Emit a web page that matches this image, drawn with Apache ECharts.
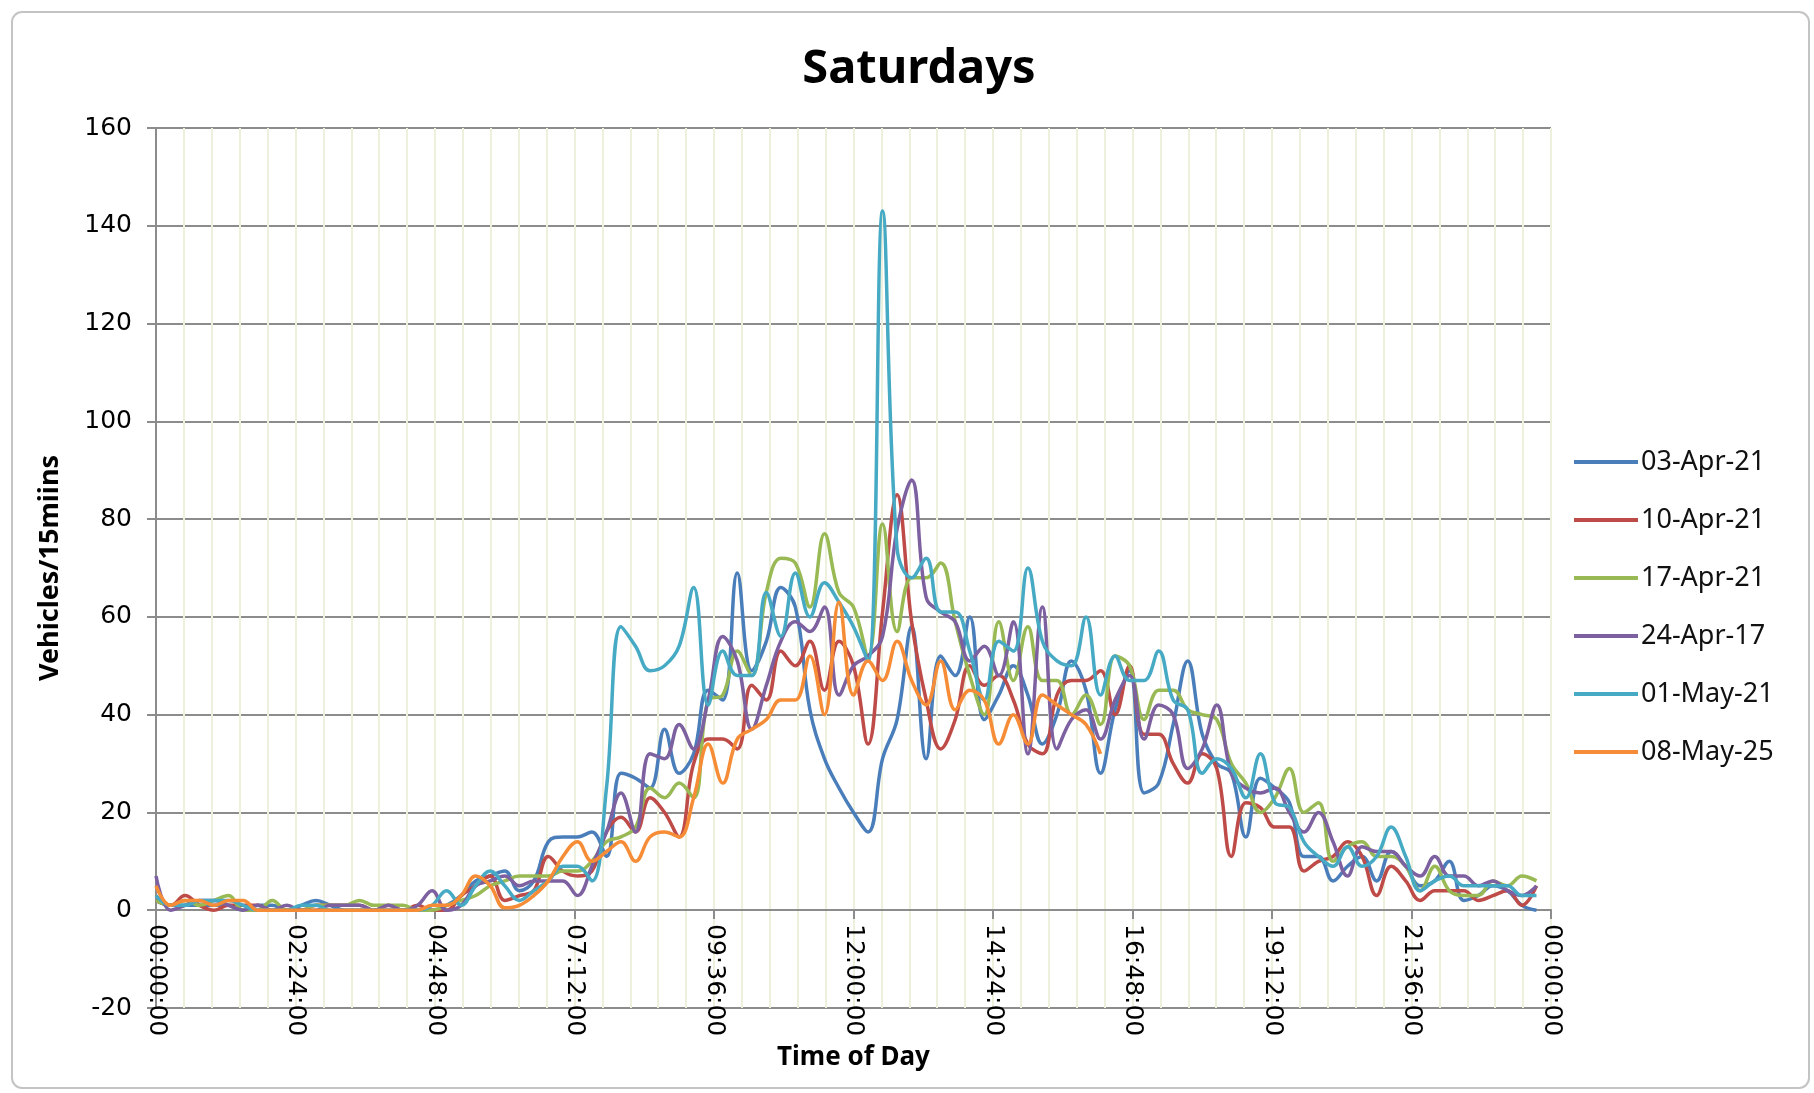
<!DOCTYPE html>
<html>
<head>
<meta charset="utf-8">
<title>Saturdays</title>
<script src="https://cdn.jsdelivr.net/npm/echarts@6/dist/echarts.min.js"></script>
<style>
  html, body { margin: 0; padding: 0; background: #fff; }
  #chart { width: 1814px; height: 1093px; }
</style>
</head>
<body>
<div id="chart"></div>
<script>
// time of day in minutes, one slot every 15 mins
const slots = Array.from({ length: 96 }, (_, i) => i * 15);

const seriesNames = ['03-Apr-21', '10-Apr-21', '17-Apr-21', '24-Apr-17', '01-May-21', '08-May-25'];
const colors = ['#4a7ebb', '#be4b48', '#98b954', '#7d60a0', '#46aac5', '#f68c36'];

const apr03 = [
  2, 1, 1, 1, 1, 1, 0, 1, 1, 0,
  1, 2, 1, 0, 0, 0, 0, 0, 0, 0,
  1, 3, 6, 7, 8, 4, 6, 14, 15, 15,
  16, 11, 28, 27, 25, 37, 28, 32, 45, 43,
  69, 49, 55, 66, 62, 41, 31, 25, 20, 16,
  31, 39, 58, 31, 52, 48, 60, 39, 44, 50,
  44, 34, 40, 51, 45, 28, 41, 49, 24, 26,
  38, 51, 36, 30, 28, 15, 27, 25, 22, 11,
  11, 6, 9, 11, 6, 12, 9, 5, 6, 10,
  2, 3, 5, 4, 1, 0
];
const apr10 = [
  2, 1, 3, 1, 0, 1, 1, 1, 0, 0,
  0, 1, 1, 1, 1, 0, 1, 0, 1, 0,
  0, 3, 5, 7, 2, 3, 4, 11, 8, 7,
  8, 16, 19, 16, 23, 20, 15, 30, 35, 35,
  33, 46, 43, 53, 50, 55, 45, 55, 50, 34,
  61, 85, 59, 43, 33, 39, 50, 46, 48, 43,
  34, 32, 44, 47, 47, 49, 40, 50, 36, 36,
  30, 26, 32, 29, 11, 22, 21, 17, 17, 8,
  10, 11, 14, 11, 3, 9, 6, 2, 4, 4,
  4, 2, 3, 4, 1, 5
];
const apr17 = [
  2, 1, 2, 1, 2, 3, 0, 0, 2, 0,
  0, 1, 1, 1, 2, 1, 1, 1, 0, 0,
  1, 2, 3, 5, 6, 7, 7, 7, 8, 8,
  10, 14, 15, 17, 25, 23, 26, 23, 43, 44,
  53, 48, 65, 72, 71, 62, 77, 65, 62, 52,
  79, 57, 68, 68, 71, 59, 48, 40, 59, 47,
  58, 47, 47, 40, 44, 38, 52, 50, 39, 45,
  45, 41, 40, 39, 30, 26, 20, 23, 29, 20,
  22, 10, 13, 14, 11, 11, 9, 4, 9, 4,
  3, 3, 6, 5, 7, 6
];
const apr24 = [
  7, 0, 1, 2, 2, 1, 0, 1, 0, 1,
  0, 0, 1, 1, 1, 0, 1, 0, 1, 4,
  0, 1, 5, 6, 7, 5, 6, 6, 6, 3,
  9, 16, 24, 16, 32, 31, 38, 33, 43, 56,
  51, 37, 46, 55, 59, 57, 62, 44, 50, 52,
  56, 78, 88, 64, 61, 59, 51, 54, 48, 59,
  32, 62, 33, 39, 41, 35, 43, 48, 35, 42,
  40, 29, 33, 42, 28, 25, 24, 25, 20, 16,
  20, 14, 7, 13, 12, 12, 9, 7, 11, 7,
  7, 5, 6, 4, 3, 5
];
const may01 = [
  3, 1, 1, 2, 2, 2, 1, 0, 0, 0,
  1, 1, 0, 0, 0, 0, 0, 0, 0, 1,
  4, 1, 5, 8, 5, 2, 4, 6, 9, 9,
  6, 25, 58, 54, 49, 50, 54, 66, 42, 53,
  48, 48, 65, 56, 69, 60, 67, 63, 58, 51,
  143, 74, 68, 72, 61, 61, 53, 43, 55, 53,
  70, 55, 51, 50, 60, 44, 52, 47, 47, 53,
  43, 41, 28, 31, 29, 23, 32, 22, 21, 14,
  11, 9, 13, 9, 11, 17, 11, 4, 6, 7,
  5, 5, 5, 5, 3, 3
];
// this one stops at 16:15
const may08 = [
  5, 1, 2, 2, 1, 2, 2, 0, 0, 0,
  0, 0, 0, 0, 0, 0, 0, 0, 0, 1,
  1, 3, 7, 5, 0.5, 1, 3, 6, 11, 14,
  10, 12, 14, 10, 15, 16, 15, 23, 34, 26,
  35, 37, 39, 43, 43, 52, 40, 63, 44, 51,
  47, 55, 47, 42, 51, 41, 45, 43, 34, 40,
  34, 44, 42, 40, 38, 32
];

const yTicks = { min: -20, max: 160, step: 20 };

function fmtTime(m) {
  const mins = Math.round(m) % 1440;
  const hh = String(Math.floor(mins / 60)).padStart(2, '0');
  const mm = String(mins % 60).padStart(2, '0');
  return hh + ':' + mm + ':00';
}

const chart = echarts.init(document.getElementById('chart'));
const allData = [apr03, apr10, apr17, apr24, may01, may08];

const option = {
  animation: false,
  color: colors,
  graphic: [{
    type: 'rect',
    shape: { x: 12, y: 12, width: 1797, height: 1076, r: 10 },
    style: { fill: 'none', stroke: '#c4c4c4', lineWidth: 2 },
    z: -1
  }],
  title: {
    text: 'Saturdays',
    left: 914,
    top: 41,
    textAlign: 'center',
    textStyle: { fontFamily: 'Noto Sans', fontSize: 47, fontWeight: 'bold', color: '#000' }
  },
  legend: {
    orient: 'vertical',
    left: 1569,
    top: 442,
    icon: 'rect',
    itemWidth: 64,
    itemHeight: 4,
    itemGap: 28,
    data: seriesNames,
    textStyle: { fontFamily: 'Noto Sans', fontSize: 27, color: '#111', lineHeight: 30, padding: [0, 0, 0, -2] }
  },
  grid: { left: 156, right: 263, top: 128, bottom: 85, containLabel: false, outerBoundsMode: 'none' },
  xAxis: {
    type: 'value',
    min: 0,
    max: 1440,
    interval: 144,
    // axis sits on the zero line, 20 units above the bottom of the plot
    offset: -98,
    name: 'Time of Day',
    nameLocation: 'middle',
    nameGap: 128,
    nameTextStyle: { fontFamily: 'Noto Sans', fontSize: 26, fontWeight: 'bold', color: '#000' },
    axisLine: { onZero: false, lineStyle: { color: '#8c8c8c', width: 2 } },
    axisTick: { show: true, length: 9, lineStyle: { color: '#8c8c8c', width: 2 } },
    axisLabel: {
      rotate: -90,
      margin: 14,
      formatter: fmtTime,
      fontFamily: 'DejaVu Sans',
      fontSize: 25,
      color: '#000'
    },
    splitLine: { show: true, lineStyle: { color: '#edf0dc', width: 2 } },
    minorTick: { show: false, splitNumber: 5 },
    minorSplitLine: { show: true, lineStyle: { color: '#edf0dc', width: 2 } }
  },
  yAxis: {
    type: 'value',
    min: yTicks.min,
    max: yTicks.max,
    interval: yTicks.step,
    name: 'Vehicles/15miins',
    nameLocation: 'middle',
    nameGap: 92,
    nameTextStyle: { fontFamily: 'Noto Sans', fontSize: 27, fontWeight: 'bold', color: '#000' },
    axisLine: { show: true, lineStyle: { color: '#8c8c8c', width: 2 } },
    axisTick: { show: true, length: 9, lineStyle: { color: '#8c8c8c', width: 2 } },
    axisLabel: { margin: 24, fontFamily: 'DejaVu Sans', fontSize: 25, color: '#000' },
    splitLine: { show: true, lineStyle: { color: '#8c8c8c', width: 2 } }
  },
  series: seriesNames.map((name, k) => ({
    name: name,
    type: 'line',
    smooth: 0.4,
    symbol: 'none',
    lineStyle: { width: 3.5 },
    data: allData[k].map((v, i) => [slots[i], v])
  }))
};

chart.setOption(option);
</script>
</body>
</html>
